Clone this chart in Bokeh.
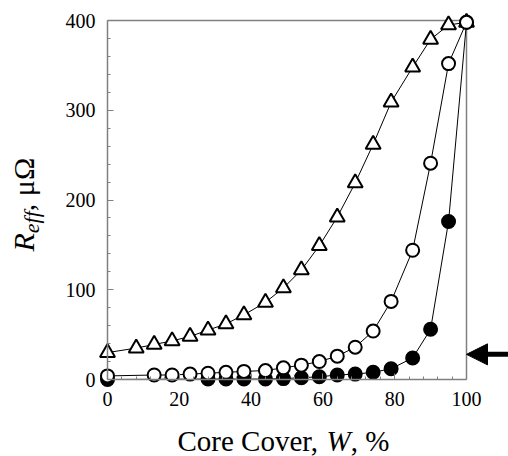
import math
from bokeh.plotting import figure
from bokeh.models import (Range1d, FixedTicker, Label, Arrow, NormalHead)
from bokeh.embed import file_html
from bokeh.resources import INLINE

# ---------------- data ----------------
TRI_X = [0, 8, 13, 18, 23, 28, 33, 38, 44, 49, 54, 59, 64, 69, 74, 79, 85, 90, 95, 100]
TRI_Y = [30, 35, 39, 43, 48, 55, 62, 72, 86, 102, 122, 149, 181, 219, 262, 309, 348, 379, 395, 398]

OPEN_X = [0, 13, 18, 23, 28, 33, 38, 44, 49, 54, 59, 64, 69, 74, 79, 85, 90, 95, 100]
OPEN_Y = [4, 5, 5, 6, 7, 8, 9, 10, 13, 16, 20, 26, 36, 54, 87, 144, 241, 352, 398]

FILL_X = [0, 28, 33, 38, 44, 49, 54, 59, 64, 69, 74, 79, 85, 90, 95, 100]
FILL_Y = [0, 0.5, 0.5, 0.5, 0.5, 1, 2, 3, 5, 6, 8, 12, 24, 56, 176, 398]

X_TICKS = [0, 20, 40, 60, 80, 100]
X_MINOR = [v for v in range(0, 101, 4) if v % 20 != 0]
Y_TICKS = [0, 100, 200, 300, 400]
Y_MINOR = [v for v in range(0, 401, 20) if v % 100 != 0]
ARROW_Y = 28

X_MAX, Y_MAX = 100, 400

# ---------------- layout (the frame fills the whole canvas) ----------------
W, H = 508, 456
PX0, PX100 = 107, 466      # canvas x of x=0 and x=100
PY0, PY400 = 379, 20       # canvas y of y=0 and y=400
SX = (PX100 - PX0) / X_MAX
SY = (PY0 - PY400) / Y_MAX
XR = (-PX0 / SX, (W - PX0) / SX)
YR = (-(H - PY0) / SY, PY0 / SY)


def fx(cx):
    return (cx - PX0) / SX


def fy(cy):
    return (PY0 - cy) / SY


FONT = "Liberation Serif"
AXIS_COLOR = "#808080"
MID = 0.3375   # baseline -> middle of the text box, in em

p = figure(width=W, height=H, output_backend="svg", toolbar_location=None,
           x_range=Range1d(*XR), y_range=Range1d(*YR), min_border=0,
           min_border_left=0, min_border_right=0, min_border_top=0, min_border_bottom=0)
p.outline_line_color = None
p.grid.visible = False
p.background_fill_color = "white"
p.border_fill_color = "white"

for ax, ticks, minor, bnd in ((p.xaxis[0], X_TICKS, X_MINOR, (0, X_MAX)),
                              (p.yaxis[0], Y_TICKS, Y_MINOR, (0, Y_MAX))):
    ax.ticker = FixedTicker(ticks=ticks, minor_ticks=minor)
    ax.bounds = bnd
    ax.fixed_location = 0
    ax.axis_line_color = AXIS_COLOR
    ax.axis_line_width = 1.5
    ax.major_tick_line_color = AXIS_COLOR
    ax.minor_tick_line_color = AXIS_COLOR
    ax.major_tick_in = 6
    ax.major_tick_out = 0
    ax.minor_tick_in = 3
    ax.minor_tick_out = 0
    ax.major_label_text_font = FONT
    ax.major_label_text_font_size = "20px"
    ax.major_label_text_color = "black"

p.xaxis.major_label_standoff = 12
p.yaxis.major_label_standoff = 12

# top and right edges of the box
p.line(x=[0, X_MAX, X_MAX], y=[Y_MAX, Y_MAX, 0], line_color=AXIS_COLOR, line_width=1.5)

# series lines
p.line(TRI_X, TRI_Y, line_color="black", line_width=1)
p.line(FILL_X, FILL_Y, line_color="black", line_width=1)
p.line(OPEN_X, OPEN_Y, line_color="black", line_width=1)

# markers
p.scatter(TRI_X, TRI_Y, marker="triangle", size=15, fill_color="white",
          line_color="black", line_width=2)
p.scatter(FILL_X, FILL_Y, marker="circle", size=13, fill_color="black",
          line_color="black", line_width=2)
p.scatter(OPEN_X, OPEN_Y, marker="circle", size=13, fill_color="white",
          line_color="black", line_width=2)

# arrow
p.add_layout(Arrow(end=NormalHead(size=21, fill_color="black", line_color="black", line_width=1),
                   x_start=XR[1], y_start=ARROW_Y, x_end=X_MAX, y_end=ARROW_Y,
                   line_color="black", line_width=5))


def add_label(cx, cy, text, size, italic=False, angle=0.0):
    p.add_layout(Label(x=fx(cx), y=fy(cy), text=text, angle=angle, text_font=FONT,
                       text_font_style="italic" if italic else "normal",
                       text_font_size=f"{size}px", text_color="black",
                       text_align="left", text_baseline="middle"))


# x-axis title: "Core Cover, W, %"
TS = 29
x0 = 177
by = 450 - MID * TS
add_label(x0, by, "Core Cover,", TS)
x1 = x0 + 5.138 * TS
add_label(x1, by, "W", TS, italic=True)
x2 = x1 + 0.833 * TS
add_label(x2, by, ", %", TS)

# y-axis title: R_eff, μΩ  (rotated, reads bottom to top)
YS = 30
SUB = 22
bx = 33                 # canvas x of the baseline
sy0 = 251               # canvas y where the text starts (bottom)
add_label(bx - MID * YS, sy0, "R", YS, italic=True, angle=math.pi / 2)
sy1 = sy0 - 0.611 * YS
add_label(bx + 5 - MID * SUB, sy1, "eff", SUB, italic=True, angle=math.pi / 2)
sy2 = sy1 - 1.0 * SUB
add_label(bx - MID * YS, sy2, ", μΩ", YS, angle=math.pi / 2)

open("out.html", "w").write(file_html(p, INLINE))
